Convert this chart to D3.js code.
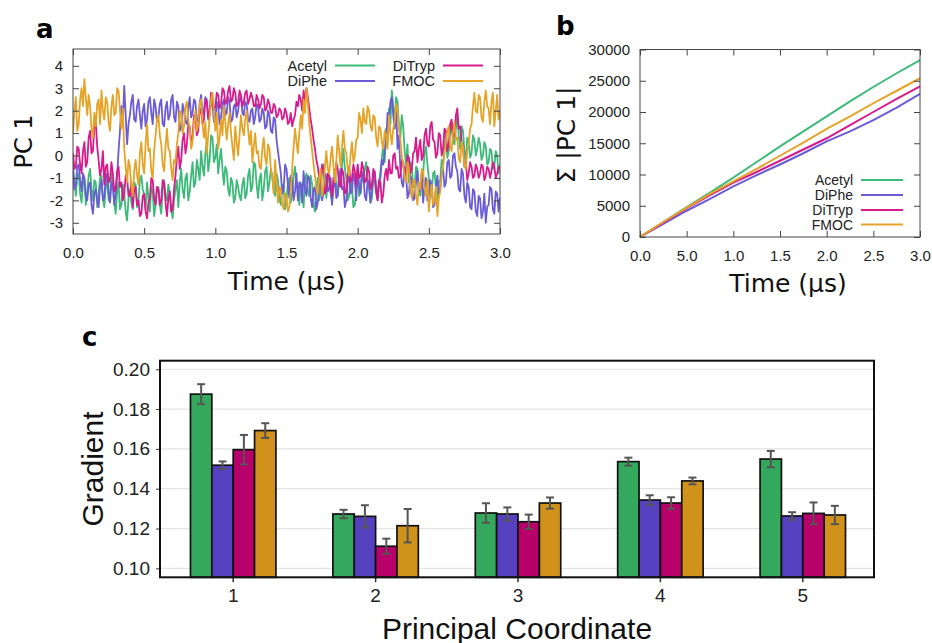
<!DOCTYPE html>
<html><head><meta charset="utf-8">
<script src="https://cdn.jsdelivr.net/npm/d3@7"></script>
<style>
html,body{margin:0;padding:0;background:#fff;}
svg{display:block;}
</style></head>
<body>
<svg id="chart" width="932" height="643"></svg>
<script>
// ---------------- DATA ----------------
const seriesNames = ["Acetyl", "DiPhe", "DiTryp", "FMOC"];
const lineColors = ["#3dba7a", "#6b5bd6", "#d81b8c", "#e5a427"];
const barColors = ["#34a85c", "#5540c0", "#b8006a", "#d1921c"];

// Panel a: PC 1 time series, sampled every 0.01 µs from 0 to 3.0
const timeStepA = 0.01;
const pcAcetyl = [
 -0.5,-1.2,-1.8,-0.9,-0.8,-1.7,-2.1,-1.3,-1.0,-2.2,-1.6,-0.9,-0.6,-1.5,-2.0,-1.1,-1.2,-2.3,-1.7,-1.0,
 -0.9,-1.9,-2.3,-1.4,-1.1,-2.0,-1.9,-0.8,-1.4,-2.1,-2.6,-1.6,-1.2,-2.4,-2.2,-1.3,-1.7,-2.5,-2.9,-1.9,
 -1.5,-2.1,-2.4,-1.2,-1.3,-2.3,-2.0,-1.1,-0.9,-1.5,-1.8,-2.4,-1.2,-1.9,-2.5,-1.4,-1.6,-2.7,-2.2,-1.5,
 -1.4,-2.2,-2.6,-1.5,-1.1,-1.8,-2.0,-1.3,-1.7,-2.4,-2.8,-2.0,-1.5,-1.1,-2.3,-1.2,-0.6,-1.5,-1.9,-1.0,
 -0.8,-2.0,-1.6,-0.9,-0.3,-1.4,-1.2,-0.2,-0.6,-1.1,0.2,-0.5,-0.9,0.1,0.6,-0.7,-0.2,0.9,0.8,-0.3,
 -0.1,0.5,-0.8,-0.2,0.3,-0.6,-1.3,-0.5,-0.7,-1.5,-1.8,-1.0,-1.2,-2.1,-1.9,-1.1,-1.4,-1.8,-2.0,-1.3,
 -1.0,-1.9,-1.7,-0.9,-0.6,-1.6,-1.4,-0.3,-0.4,-1.3,-1.9,-1.1,-0.8,-2.0,-1.5,-0.7,-0.5,-1.6,-1.2,-0.6,
 -0.9,-1.5,-1.8,-0.8,-1.1,-1.9,-2.2,-1.3,-1.4,-2.4,-2.0,-1.2,-1.0,-2.1,-1.7,-0.9,-0.5,-1.4,-1.5,-2.2,
 -1.2,-1.7,-2.3,-1.1,-0.8,-1.6,-1.8,-0.9,-1.3,-2.2,-2.5,-1.5,-1.0,-2.0,-1.6,-0.7,-0.4,-1.3,-1.9,-1.0,
 -1.1,-1.7,-2.1,-1.2,-0.6,-1.4,-1.7,-0.8,-1.3,-0.4,0.3,-0.6,-1.0,-2.0,-1.8,-1.0,-1.4,-2.3,-2.2,-1.5,
 -0.9,-1.8,-1.6,-0.7,-1.2,-0.6,-0.3,-1.2,-1.5,-2.1,-1.9,-1.0,-1.1,-1.7,-2.0,-1.2,-0.7,-0.1,0.5,-0.3,
 1.2,0.6,2.1,1.4,2.9,2.2,1.5,2.6,2.4,1.3,0.8,1.8,1.3,0.2,-0.4,0.5,-1.2,-0.3,-0.5,-1.4,
 -1.4,-0.5,-0.6,-1.5,-1.8,-0.9,-0.8,0.1,0.4,-0.4,-1.0,-1.9,-1.6,-0.8,-0.7,-1.5,-2.0,-1.2,-1.1,-0.2,
 -0.4,0.4,0.9,-0.1,0.2,1.0,1.4,0.6,0.5,1.2,1.8,0.9,0.3,1.3,1.1,0.2,-0.2,0.8,0.6,-0.1,
 0.1,0.9,0.7,0.0,0.3,0.8,0.5,-0.2,0.0,0.6,0.4,-0.4,-0.3,0.3,0.2,-0.6,-0.5,0.2,0.0,-0.8,-0.4];
const pcDiPhe = [
 -0.6,-1.5,-1.3,-0.5,-0.4,-1.1,-1.6,-0.8,-1.0,-1.8,-2.0,-1.3,-1.2,-2.2,-2.6,-1.7,-1.5,-2.0,-2.3,-1.4,
 -1.1,-2.0,-1.9,-1.0,-0.8,-1.6,-2.1,-1.2,-1.3,-2.2,-1.7,-0.9,0.2,1.1,2.2,1.5,3.1,1.8,0.5,1.4,
 1.8,2.4,2.7,1.6,1.5,2.2,2.5,1.8,1.2,2.0,2.3,1.3,1.6,2.4,2.6,1.9,1.4,2.5,2.2,1.5,
 1.7,2.3,2.5,1.4,1.3,2.1,2.4,1.6,1.8,2.5,2.7,1.7,1.5,2.4,2.2,1.1,1.2,2.3,2.0,1.5,
 1.4,2.1,2.6,1.7,1.9,2.5,2.4,1.5,1.6,2.3,2.7,1.8,2.0,2.6,2.5,1.6,1.8,2.4,2.3,1.5,
 1.5,2.4,2.2,1.4,1.7,2.3,2.5,1.8,1.9,2.6,2.4,1.5,1.6,2.2,2.3,1.7,2.0,2.5,2.6,1.9,
 1.8,2.4,2.3,1.6,1.5,2.0,2.1,1.4,1.7,2.3,2.2,1.5,1.6,2.1,1.9,1.2,1.3,2.0,1.8,1.1,
 1.0,1.7,1.6,0.7,0.2,-0.3,-0.8,-1.7,-1.5,-0.4,-0.6,-1.3,-1.9,-0.9,-1.1,-2.0,-1.6,-0.8,-2.0,-1.2,
 -1.3,-2.1,-0.7,-1.5,-1.8,-0.9,-1.0,-1.9,-2.3,-1.5,-1.4,-2.4,-2.1,-1.3,-1.2,-2.0,-1.7,-0.8,-0.9,-1.6,
 -1.5,-1.0,-2.2,-1.4,-1.0,-1.9,-1.8,-0.9,-0.6,-1.5,-1.4,-2.3,-2.0,-1.2,-0.8,-1.7,-1.6,-0.8,-1.1,-2.0,
 -0.5,-1.3,-1.7,-0.8,-0.9,-1.8,-2.0,-1.1,-1.2,-2.1,-1.6,-0.9,-0.7,-1.5,-1.9,-1.2,-1.0,-0.2,-0.4,0.2,
 0.6,1.9,1.5,2.4,2.6,1.8,1.2,2.1,0.3,0.9,-0.6,-1.2,-1.4,-0.5,-0.8,-1.9,-1.7,-0.9,-1.1,-2.0,
 -1.9,-1.2,-0.7,-1.6,-1.5,-0.8,-2.1,-1.4,-1.0,-2.0,-1.8,-1.1,-1.3,-2.3,-2.2,-1.4,-0.9,-1.7,-1.5,-0.8,
 -0.6,-1.4,-1.2,-0.3,-0.2,-1.0,-0.9,0.0,0.1,-0.5,-0.7,-1.5,-1.6,-0.6,-0.8,-1.8,-2.1,-1.2,-1.4,-2.3,
 -2.4,-1.5,-1.6,-2.5,-2.7,-1.8,-1.9,-2.8,-2.5,-1.7,-3.0,-2.3,-2.2,-1.4,-1.5,-2.4,-2.6,-1.6,-1.7,-2.5,-1.9];
const pcDiTryp = [
 0.1,-0.6,-0.5,0.4,0.3,-0.4,-0.8,0.2,0.6,-0.5,-0.3,0.8,1.1,0.1,0.2,1.3,1.5,0.4,-0.2,-0.9,
 -0.6,0.2,-1.3,-0.5,-0.4,-1.2,-1.1,-0.3,-0.8,-1.6,-1.5,-0.7,-0.5,-1.4,-1.2,-2.0,-1.7,-0.9,-1.0,-1.8,
 -1.8,-1.2,-2.3,-1.5,-1.4,-2.2,-2.0,-2.7,-2.6,-1.8,-1.7,-2.5,-2.8,-2.1,-1.9,-1.0,-1.1,-1.9,-2.2,-1.4,
 -1.5,-2.2,-2.0,-1.1,-1.2,-2.1,-2.7,-1.9,-1.6,-2.5,-2.4,-1.5,-0.9,-0.1,0.4,-0.6,-0.2,0.7,1.0,0.1,
 0.5,1.4,1.3,0.6,0.8,1.8,1.7,0.9,1.1,2.1,2.0,1.4,1.6,2.5,2.4,1.7,2.0,2.8,2.6,2.0,
 2.2,2.8,2.7,2.1,2.3,3.0,2.9,2.3,2.4,2.9,3.1,2.4,2.5,3.0,2.8,2.2,2.3,2.9,2.7,2.2,
 2.4,2.8,2.9,2.3,2.5,2.8,2.6,2.2,2.2,2.7,2.5,2.1,2.3,2.7,2.6,2.0,2.1,2.5,2.3,1.9,
 1.9,2.3,2.2,1.7,1.8,2.1,2.0,1.6,1.7,2.1,1.9,1.4,1.5,1.9,1.3,1.6,1.8,2.4,2.2,2.7,
 2.5,2.0,2.9,2.4,3.0,2.6,2.1,1.6,1.2,0.7,0.3,-0.2,-0.5,-1.0,-1.2,-0.4,-0.6,-1.7,-1.5,-0.8,
 -0.9,-1.5,-1.8,-1.0,-1.2,-0.3,-0.6,-1.3,-1.4,-0.6,-0.8,-1.7,-1.6,-0.9,-0.5,-1.2,-1.0,-0.4,-0.7,-1.3,
 -0.4,-1.0,-0.9,-0.3,-0.6,-1.2,-1.1,-0.5,-0.7,-1.5,-1.3,-0.6,-0.8,-1.6,-2.0,-1.1,-1.2,-2.1,-1.7,-0.9,
 -0.6,-1.1,-0.2,-0.8,-0.8,0.0,0.1,-0.6,-0.5,-1.0,-0.9,-0.2,-0.3,-0.9,-0.7,0.0,-0.1,-0.8,-0.6,0.1,
 0.2,0.8,-0.3,0.3,0.7,-0.2,0.0,0.9,1.2,0.5,0.4,1.3,1.5,0.7,0.6,-0.1,0.1,1.0,0.9,0.0,
 0.3,1.2,1.1,0.2,0.5,1.4,1.6,0.8,0.9,1.8,2.1,1.2,1.3,0.6,0.4,-0.5,-0.3,-1.1,-0.8,-0.3,
 -0.5,-1.0,-0.9,-0.4,-0.6,-1.0,-0.8,-0.4,-0.5,-1.1,-0.9,-0.5,-0.6,-1.0,-0.7,-0.3,-0.5,-1.0,-0.8,-0.5,-0.6];
const pcFMOC = [
 1.0,2.0,2.6,1.1,1.4,2.5,3.0,2.2,3.4,2.6,1.8,2.7,2.2,1.2,0.8,1.9,1.3,2.3,2.5,1.4,
 2.9,2.0,1.6,2.6,2.4,1.5,1.1,2.2,2.7,1.8,1.9,3.0,2.9,2.0,1.2,2.1,0.3,-0.5,-1.2,-0.2,
 -0.5,-1.4,-1.8,-0.7,-0.2,-0.9,-1.3,0.1,0.6,-0.4,-0.8,0.5,1.4,0.2,0.3,-0.7,-1.0,0.2,0.9,1.6,
 1.8,0.9,0.5,-0.4,-0.7,0.4,1.2,0.3,0.2,-0.6,-1.1,-0.2,-0.3,0.5,1.0,2.0,1.9,1.0,1.3,2.2,
 2.4,1.6,1.2,0.3,0.6,1.5,2.0,1.1,1.4,2.3,2.5,1.4,0.8,1.5,0.1,0.9,1.7,2.5,2.8,1.9,
 1.1,1.9,0.3,0.8,1.6,0.9,2.2,1.5,0.7,1.4,1.9,1.0,0.4,-0.2,1.3,0.6,0.0,0.9,1.8,1.2,
 0.9,1.6,2.0,1.2,0.5,1.1,-0.3,0.4,1.0,0.1,0.2,-0.5,-0.6,0.3,0.8,-0.1,-0.4,0.5,0.3,-0.6,
 -1.0,-1.7,-0.2,-1.2,-2.1,-1.4,-1.5,-2.2,-2.4,-1.7,-1.9,-2.5,-2.3,-1.5,-0.6,0.4,1.2,0.6,0.1,1.0,
 1.8,1.2,2.5,1.9,3.0,2.3,1.4,0.8,0.2,-0.4,-0.9,-1.5,-1.7,-1.0,-0.6,-1.8,-1.4,-0.5,0.2,-0.6,
 -0.8,-0.1,0.4,-0.5,-1.2,-0.3,0.9,0.2,-0.5,0.4,1.1,0.3,0.1,-0.6,-0.9,0.0,0.6,-0.3,0.0,0.7,
 0.8,1.9,1.6,1.0,2.1,1.5,1.4,2.2,2.0,1.3,1.1,1.8,1.7,0.8,0.4,1.3,1.2,0.6,0.3,1.1,
 0.9,0.3,1.8,1.0,0.5,1.2,1.5,2.3,2.0,1.3,0.7,0.0,-0.4,-1.0,-1.2,-0.3,-0.6,-1.5,-1.9,-1.1,
 -1.1,-1.8,-2.2,-1.2,-1.5,-0.6,-0.7,-1.5,-1.8,-1.1,-2.5,-1.8,-1.3,-2.2,-2.0,-1.4,-2.7,-1.9,-1.6,-0.9,
 -0.5,0.1,0.6,1.1,1.3,0.4,0.2,1.0,1.5,0.7,0.8,-0.1,-0.3,0.6,0.4,-0.5,-0.6,0.2,0.5,1.2,
 1.4,2.2,2.8,2.0,1.9,2.7,2.6,1.7,1.5,2.4,2.9,2.2,2.1,1.4,2.4,2.8,1.3,2.0,2.7,1.6,2.0];
const ticksA_x = [0, 0.5, 1.0, 1.5, 2.0, 2.5, 3.0];
const ticksA_y = [-3, -2, -1, 0, 1, 2, 3, 4];

// Panel b: cumulative sum of |PC 1|
const timesB = [0, 0.25, 0.5, 0.75, 1.0, 1.25, 1.5, 1.75, 2.0, 2.25, 2.5, 2.75, 3.0];
const cumAcetyl = [0, 2400, 4800, 7100, 9500, 12000, 14500, 16900, 19300, 21700, 24000, 26200, 28300];
const cumDiPhe  = [0, 2100, 4200, 6100, 8100, 9900, 11600, 13400, 15300, 16900, 18700, 20700, 22900];
const cumDiTryp = [0, 2300, 4600, 6700, 8700, 10400, 12200, 14000, 15800, 17900, 20000, 22100, 24100];
const cumFMOC   = [0, 2400, 4700, 6900, 8900, 10900, 13000, 15100, 17300, 19300, 21400, 23400, 25400];
const ticksB_x = [0, 0.5, 1.0, 1.5, 2.0, 2.5, 3.0];
const ticksB_xLabels = ["0.0", "5.0", "1.0", "1.5", "2.0", "2.5", "3.0"];
const ticksB_y = [0, 5000, 10000, 15000, 20000, 25000, 30000];

// Panel c: gradients per principal coordinate
const coords = ["1", "2", "3", "4", "5"];
const gradAcetyl = [0.1875, 0.1273, 0.1278, 0.1536, 0.1549];
const gradDiPhe  = [0.1518, 0.1261, 0.1273, 0.1343, 0.1263];
const gradDiTryp = [0.1596, 0.1111, 0.1234, 0.1328, 0.1276];
const gradFMOC   = [0.1692, 0.1214, 0.1328, 0.1439, 0.1268];
const errAcetyl = [0.0050, 0.0021, 0.0049, 0.0020, 0.0041];
const errDiPhe  = [0.0019, 0.0056, 0.0033, 0.0024, 0.0019];
const errDiTryp = [0.0074, 0.0038, 0.0036, 0.0029, 0.0055];
const errFMOC   = [0.0037, 0.0084, 0.0028, 0.0017, 0.0046];
const ticksC_y = [0.10, 0.12, 0.14, 0.16, 0.18, 0.20];

// ---------------- DRAW ----------------
const svg = d3.select("#chart");
const gnuFont = "'Liberation Sans', Arial, sans-serif";
const titleFont = "'DejaVu Sans', sans-serif";

function panelLabel(x, y, t) {
  svg.append("text").attr("x", x).attr("y", y).text(t)
    .attr("font-family", titleFont).attr("font-weight", "bold")
    .attr("font-size", 26).attr("fill", "#000");
}
panelLabel(36, 38, "a");
panelLabel(556, 35, "b");
panelLabel(82, 346, "c");

function styleAxis(g, fs) {
  g.select(".domain").remove();
  g.selectAll(".tick line").attr("stroke", "#444").attr("stroke-width", 1);
  g.selectAll(".tick text").attr("font-family", gnuFont).attr("font-size", fs).attr("fill", "#222");
}

// ---- Panel a ----
{
  const L = 73, R = 500, T = 49, B = 234;
  const x = d3.scaleLinear().domain([0, 3]).range([L, R]);
  const y = d3.scaleLinear().domain([-3.5, 4.75]).range([B, T]);
  const fmt = d => (d < 0 ? "-" + Math.abs(d) : String(d));
  svg.append("clipPath").attr("id", "clipA").append("rect")
    .attr("x", L).attr("y", T).attr("width", R - L).attr("height", B - T);
  const series = [pcAcetyl, pcDiPhe, pcDiTryp, pcFMOC];
  const line = d3.line().x((d, i) => x(i * timeStepA)).y(d => y(d));
  const gl = svg.append("g").attr("clip-path", "url(#clipA)");
  series.forEach((s, k) => {
    gl.append("path").datum(s).attr("d", line)
      .attr("fill", "none").attr("stroke", lineColors[k])
      .attr("stroke-width", 1.8).attr("stroke-linejoin", "round");
  });
  styleAxis(svg.append("g").attr("transform", `translate(0,${B})`)
    .call(d3.axisBottom(x).tickValues(ticksA_x).tickFormat(d3.format(".1f")).tickSize(-6).tickPadding(13)), 15);
  styleAxis(svg.append("g").attr("transform", `translate(0,${T})`)
    .call(d3.axisTop(x).tickValues(ticksA_x).tickFormat("").tickSize(-6)), 15);
  styleAxis(svg.append("g").attr("transform", `translate(${L},0)`)
    .call(d3.axisLeft(y).tickValues(ticksA_y).tickFormat(fmt).tickSize(-6).tickPadding(10)), 15);
  styleAxis(svg.append("g").attr("transform", `translate(${R},0)`)
    .call(d3.axisRight(y).tickValues(ticksA_y).tickFormat("").tickSize(-6)), 15);
  svg.append("rect").attr("x", L).attr("y", T).attr("width", R - L).attr("height", B - T)
    .attr("fill", "none").attr("stroke", "#444").attr("stroke-width", 1);
  // legend (two columns)
  const legPos = [[327, 65.5], [327, 81], [435, 65.5], [435, 81]];
  seriesNames.forEach((n, k) => {
    const [lx, ly] = legPos[k];
    svg.append("text").attr("x", lx).attr("y", ly + 5).attr("text-anchor", "end")
      .attr("font-family", gnuFont).attr("font-size", 14.5).attr("fill", "#222").text(n);
    svg.append("line").attr("x1", lx + 8).attr("x2", lx + 48).attr("y1", ly).attr("y2", ly)
      .attr("stroke", lineColors[k]).attr("stroke-width", 2);
  });
  svg.append("text").attr("x", (L + R) / 2).attr("y", 290).attr("text-anchor", "middle")
    .attr("font-family", titleFont).attr("font-size", 25).attr("fill", "#111").text("Time (μs)");
  svg.append("text").attr("transform", `translate(32,${(T + B) / 2}) rotate(-90)`)
    .attr("text-anchor", "middle").attr("font-family", titleFont).attr("font-size", 24)
    .attr("fill", "#111").text("PC 1");
}

// ---- Panel b ----
{
  const L = 640, R = 920, T = 49.5, B = 237;
  const x = d3.scaleLinear().domain([0, 3]).range([L, R]);
  const y = d3.scaleLinear().domain([0, 30000]).range([B, T]);
  const series = [cumAcetyl, cumDiPhe, cumDiTryp, cumFMOC];
  const line = d3.line().x((d, i) => x(timesB[i])).y(d => y(d));
  series.forEach((s, k) => {
    svg.append("path").datum(s).attr("d", line)
      .attr("fill", "none").attr("stroke", lineColors[k]).attr("stroke-width", 2);
  });
  styleAxis(svg.append("g").attr("transform", `translate(0,${B})`)
    .call(d3.axisBottom(x).tickValues(ticksB_x).tickFormat((d, i) => ticksB_xLabels[i]).tickSize(-6).tickPadding(13)), 15);
  styleAxis(svg.append("g").attr("transform", `translate(0,${T})`)
    .call(d3.axisTop(x).tickValues(ticksB_x).tickFormat("").tickSize(-6)), 15);
  styleAxis(svg.append("g").attr("transform", `translate(${L},0)`)
    .call(d3.axisLeft(y).tickValues(ticksB_y).tickFormat(d3.format("d")).tickSize(-6).tickPadding(10)), 15);
  styleAxis(svg.append("g").attr("transform", `translate(${R},0)`)
    .call(d3.axisRight(y).tickValues(ticksB_y).tickFormat("").tickSize(-6)), 15);
  svg.append("rect").attr("x", L).attr("y", T).attr("width", R - L).attr("height", B - T)
    .attr("fill", "none").attr("stroke", "#444").attr("stroke-width", 1);
  const legY = [180, 195, 210, 224.5];
  seriesNames.forEach((n, k) => {
    svg.append("text").attr("x", 853).attr("y", legY[k] + 5).attr("text-anchor", "end")
      .attr("font-family", gnuFont).attr("font-size", 14).attr("fill", "#222").text(n);
    svg.append("line").attr("x1", 861).attr("x2", 903).attr("y1", legY[k]).attr("y2", legY[k])
      .attr("stroke", lineColors[k]).attr("stroke-width", 2);
  });
  svg.append("text").attr("x", (L + R) / 2 + 8).attr("y", 292).attr("text-anchor", "middle")
    .attr("font-family", titleFont).attr("font-size", 25).attr("fill", "#111").text("Time (μs)");
  svg.append("text").attr("transform", `translate(575,135) rotate(-90)`)
    .attr("text-anchor", "middle").attr("font-family", titleFont).attr("font-size", 25)
    .attr("fill", "#111").text("Σ |PC 1|");
}

// ---- Panel c ----
{
  const L = 160, R = 874, T = 360.7, B = 577.3;
  const x = d3.scaleBand().domain(coords).range([L + 2, R]).paddingInner(0.4).paddingOuter(0.2);
  const xs = d3.scaleBand().domain(seriesNames).range([0, x.bandwidth()]);
  const y = d3.scaleLinear().domain([0.0955, 0.2043]).range([B, T]);
  svg.append("g").selectAll("line").data(ticksC_y).join("line")
    .attr("x1", L).attr("x2", R).attr("y1", d => y(d)).attr("y2", d => y(d))
    .attr("stroke", "#e3e3e3").attr("stroke-width", 1.2);
  const vals = [gradAcetyl, gradDiPhe, gradDiTryp, gradFMOC];
  const errs = [errAcetyl, errDiPhe, errDiTryp, errFMOC];
  const rows = [];
  coords.forEach((c, i) => seriesNames.forEach((s, k) => rows.push({ c, s, k, v: vals[k][i], e: errs[k][i] })));
  svg.append("g").selectAll("rect").data(rows).join("rect")
    .attr("x", d => x(d.c) + xs(d.s)).attr("width", xs.bandwidth())
    .attr("y", d => y(d.v)).attr("height", d => y.range()[0] - y(d.v))
    .attr("fill", d => barColors[d.k]).attr("stroke", "#111").attr("stroke-width", 1.7);
  const eg = svg.append("g").attr("stroke", "#555").attr("stroke-width", 2);
  rows.forEach(d => {
    const cx = x(d.c) + xs(d.s) + xs.bandwidth() / 2;
    eg.append("line").attr("x1", cx).attr("x2", cx).attr("y1", y(d.v + d.e)).attr("y2", y(d.v - d.e));
    eg.append("line").attr("x1", cx - 4).attr("x2", cx + 4).attr("y1", y(d.v + d.e)).attr("y2", y(d.v + d.e));
    eg.append("line").attr("x1", cx - 4).attr("x2", cx + 4).attr("y1", y(d.v - d.e)).attr("y2", y(d.v - d.e));
  });
  const ga = svg.append("g").attr("transform", `translate(${L},0)`)
    .call(d3.axisLeft(y).tickValues(ticksC_y).tickFormat(d3.format(".2f")).tickSize(4).tickPadding(6));
  styleAxis(ga, 19);
  ga.selectAll(".tick line").attr("stroke", "#333");
  const gb = svg.append("g").attr("transform", `translate(0,${B})`)
    .call(d3.axisBottom(x).tickSize(5).tickPadding(6));
  styleAxis(gb, 19);
  gb.selectAll(".tick line").attr("stroke", "#333").attr("stroke-width", 1.5);
  svg.append("rect").attr("x", L).attr("y", T).attr("width", R - L).attr("height", B - T)
    .attr("fill", "none").attr("stroke", "#111").attr("stroke-width", 2);
  svg.append("text").attr("x", (L + R) / 2).attr("y", 639).attr("text-anchor", "middle")
    .attr("font-family", gnuFont).attr("font-size", 30).attr("fill", "#111").text("Principal Coordinate");
  svg.append("text").attr("transform", `translate(103,${(T + B) / 2}) rotate(-90)`)
    .attr("text-anchor", "middle").attr("font-family", gnuFont).attr("font-size", 30)
    .attr("fill", "#111").text("Gradient");
}
</script>
</body></html>
